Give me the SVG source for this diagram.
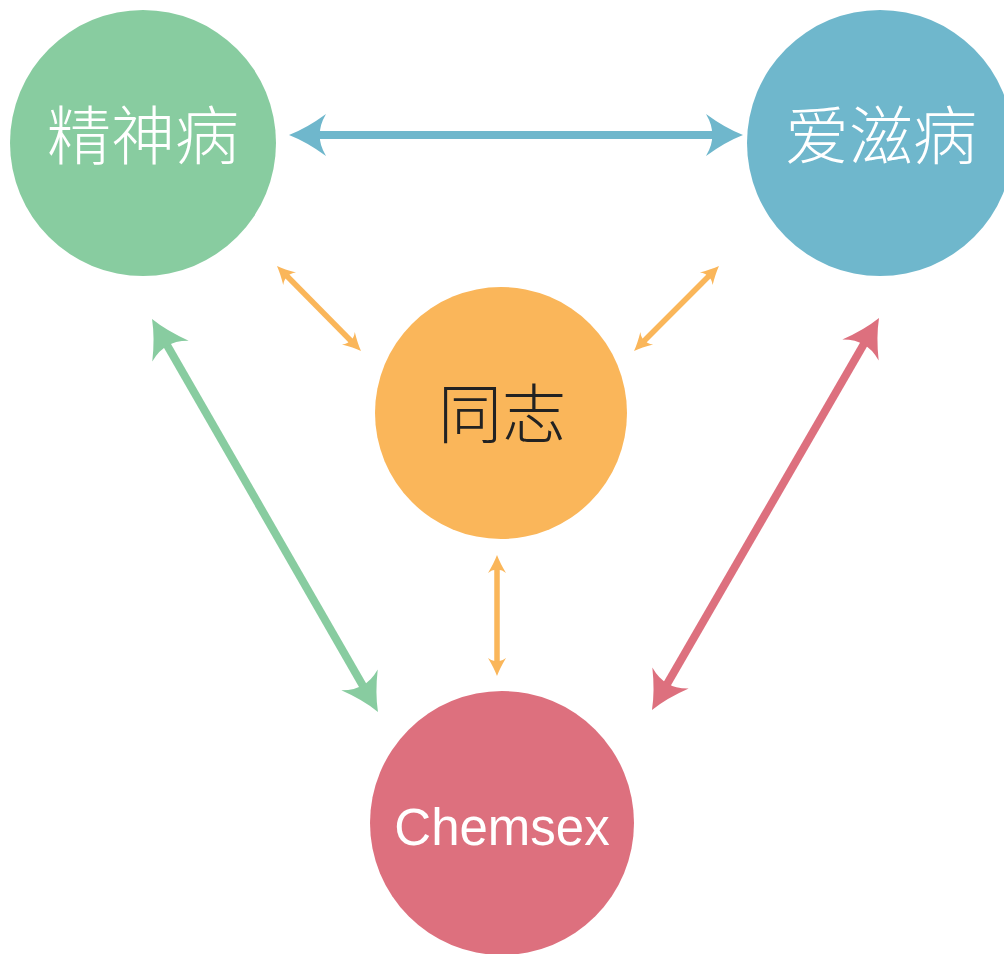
<svg xmlns="http://www.w3.org/2000/svg" width="1004" height="954" viewBox="0 0 1004 954">
<style>
.lbl{font-family:"Noto Sans CJK SC","Noto Sans",sans-serif;font-size:64px;font-weight:300;text-anchor:middle}
.w{fill:#ffffff}
.big{stroke-width:8;fill:none}
.small{stroke-width:5.5;fill:none}
</style>
<defs>
<marker id="mGreen" markerUnits="userSpaceOnUse" markerWidth="60" markerHeight="60" refX="0" refY="0" orient="auto-start-reverse" overflow="visible"><path d="M25,0 Q7,-7 -12,-21 Q-5,-9 -6,0 Q-5,9 -12,21 Q7,7 25,0 Z" fill="#88CCA0"/></marker>
<marker id="mBlue" markerUnits="userSpaceOnUse" markerWidth="60" markerHeight="60" refX="0" refY="0" orient="auto-start-reverse" overflow="visible"><path d="M25,0 Q7,-7 -12,-21 Q-5,-9 -6,0 Q-5,9 -12,21 Q7,7 25,0 Z" fill="#6FB7CC"/></marker>
<marker id="mRed" markerUnits="userSpaceOnUse" markerWidth="60" markerHeight="60" refX="0" refY="0" orient="auto-start-reverse" overflow="visible"><path d="M25,0 Q7,-7 -12,-21 Q-5,-9 -6,0 Q-5,9 -12,21 Q7,7 25,0 Z" fill="#DD707E"/></marker>
<marker id="mOrange" markerUnits="userSpaceOnUse" markerWidth="30" markerHeight="30" refX="0" refY="0" orient="auto-start-reverse" overflow="visible"><path d="M11,0 Q3,-3 -7,-9 Q-3,-4 -4,0 Q-3,4 -7,9 Q3,3 11,0 Z" fill="#FAB65A"/></marker>
</defs>
<rect width="1004" height="954" fill="#ffffff"/>
<g id="node-jingshenbing">
<circle cx="143" cy="143" r="133" fill="#88CCA0"/>
<text class="lbl w" x="143" y="159">精神病</text>
</g>
<g id="node-aizibing">
<circle cx="880" cy="143" r="133" fill="#6FB7CC"/>
<text class="lbl w" x="881" y="159">爱滋病</text>
</g>
<g id="node-tongzhi">
<circle cx="501" cy="413" r="126" fill="#FAB65A"/>
<text class="lbl" x="502" y="437" fill="#222222">同志</text>
</g>
<g id="node-chemsex">
<circle cx="502" cy="823" r="132" fill="#DD707E"/>
<text x="502" y="845" font-family="Liberation Sans, Arial, sans-serif" font-size="51" fill="#ffffff" text-anchor="middle">Chemsex</text>
</g>
<g id="connectors">
<line class="big" x1="314" y1="135" x2="718" y2="135" stroke="#6FB7CC" marker-start="url(#mBlue)" marker-end="url(#mBlue)"/>
<line class="big" x1="164.5" y1="340.7" x2="365.5" y2="690.3" stroke="#88CCA0" marker-start="url(#mGreen)" marker-end="url(#mGreen)"/>
<line class="big" x1="866.5" y1="339.6" x2="664.5" y2="688.4" stroke="#DD707E" marker-start="url(#mRed)" marker-end="url(#mRed)"/>
<line class="small" x1="284.7" y1="273.8" x2="353.3" y2="343.2" stroke="#FAB65A" marker-start="url(#mOrange)" marker-end="url(#mOrange)"/>
<line class="small" x1="711.2" y1="273.8" x2="641.8" y2="343.2" stroke="#FAB65A" marker-start="url(#mOrange)" marker-end="url(#mOrange)"/>
<line class="small" x1="497" y1="566" x2="497" y2="665" stroke="#FAB65A" marker-start="url(#mOrange)" marker-end="url(#mOrange)"/>
</g>
</svg>
